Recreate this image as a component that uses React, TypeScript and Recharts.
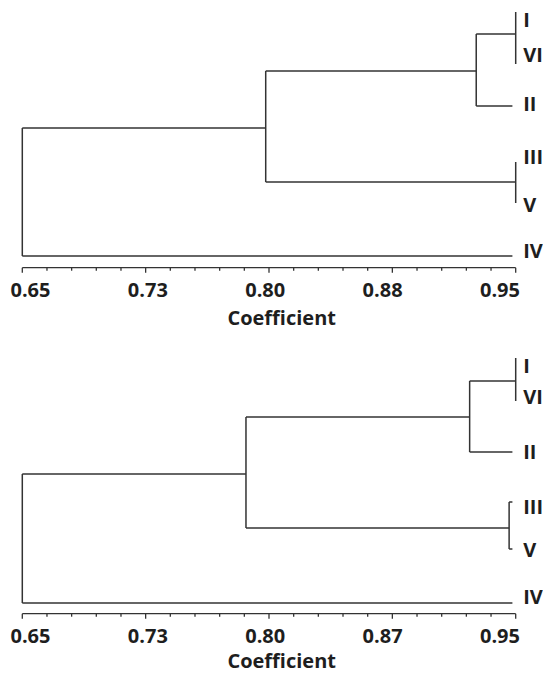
import React from 'react';
import { LineChart, Line, XAxis, YAxis, Label } from 'recharts';

// leaves top to bottom, and the merge order of the dendrogram (m0..m4 = earlier merges)
const leafNames = ['I', 'VI', 'II', 'III', 'V', 'IV'];
const mergePairs = [['I', 'VI'], ['III', 'V'], ['m0', 'II'], ['m2', 'm1'], ['m3', 'IV']];

const coefTicks = [
  0.65, 0.665, 0.68, 0.695, 0.71, 0.725, 0.74, 0.755, 0.77, 0.785, 0.8,
  0.815, 0.83, 0.845, 0.86, 0.875, 0.89, 0.905, 0.92, 0.935, 0.95,
];
const leafEnd = 0.948;

// upper dendrogram
const topTickLabels = ['0.65', '0.73', '0.80', '0.88', '0.95'];
const topLeafRow = [12, 64, 106, 162, 203, 256];
const topLabelRow = [20, 55, 104, 157, 205, 251];
const topMergeCoef = [0.95, 0.95, 0.926, 0.798, 0.65];
const topMergeRow = [34, 182, 71, 128, 0];

// lower dendrogram
const bottomTickLabels = ['0.65', '0.73', '0.80', '0.87', '0.95'];
const bottomLeafRow = [12, 55, 106, 156, 203, 257];
const bottomLabelRow = [20, 51, 106, 161, 204, 251];
const bottomMergeCoef = [0.95, 0.946, 0.922, 0.786, 0.65];
const bottomMergeRow = [35, 182, 71, 128, 0];

const FONT = '"Open Sans", sans-serif';
const INK = '#1e1e1e';
const LINE = '#333';

type Pt = { x: number; y: number };

function buildSegments(leafRow: number[], mergeCoef: number[], mergeRow: number[]): Pt[][] {
  const pos = (id: string) => {
    if (id.startsWith('m')) {
      const k = Number(id.slice(1));
      return { x: mergeCoef[k], y: mergeRow[k] };
    }
    return { x: leafEnd, y: leafRow[leafNames.indexOf(id)] };
  };
  const segs: Pt[][] = [];
  mergePairs.forEach((pair, i) => {
    const x = mergeCoef[i];
    const kids = pair.map(pos);
    segs.push([{ x, y: kids[0].y }, { x, y: kids[1].y }]);
    kids.forEach((k) => {
      if (k.x > x + 0.0005) segs.push([{ x, y: k.y }, { x: k.x, y: k.y }]);
    });
  });
  return segs;
}

const CoefTick = (props: any) => {
  const { x, y, index, labels } = props;
  const major = index % 5 === 0;
  const frac = index / 20;
  return (
    <g>
      <line x1={x} x2={x} y1={y} y2={y + (major ? 5 : 3)} stroke={LINE} strokeWidth={1.3} />
      {major && (
        <text
          x={x + 8.2 - 23.9 * frac}
          y={y + 29}
          textAnchor="middle"
          fontFamily={FONT}
          fontWeight={700}
          fontSize={20}
          fill={INK}
        >
          {labels[index / 5]}
        </text>
      )}
    </g>
  );
};

const LeafTick = (props: any) => {
  const { x, y, index } = props;
  return (
    <text x={x} y={y + 7} textAnchor="start" fontFamily={FONT} fontWeight={700} fontSize={20} fill={INK}>
      {leafNames[index]}
    </text>
  );
};

const Dendrogram: React.FC<{
  leafRow: number[];
  labelRow: number[];
  mergeCoef: number[];
  mergeRow: number[];
  tickLabels: string[];
  titleDrop: number;
}> = ({ leafRow, labelRow, mergeCoef, mergeRow, tickLabels, titleDrop }) => {
  const segments = buildSegments(leafRow, mergeCoef, mergeRow);
  return (
    <LineChart width={543} height={330} margin={{ top: 0, right: 0, left: 22.3, bottom: 2.3 }}>
      <XAxis
        type="number"
        dataKey="x"
        domain={[0.65, 0.95]}
        ticks={coefTicks}
        interval={0}
        height={60}
        tickSize={0}
        tickMargin={0}
        tickLine={false}
        axisLine={{ stroke: LINE, strokeWidth: 1.3 }}
        tick={<CoefTick labels={tickLabels} />}
      >
        <Label
          content={(p: any) => {
            const vb = p.viewBox;
            return (
              <text
                x={vb.x + vb.width / 2 + 12.7}
                y={vb.y + titleDrop}
                textAnchor="middle"
                fontFamily={FONT}
                fontWeight={700}
                fontSize={20}
                fill={INK}
              >
                Coefficient
              </text>
            );
          }}
        />
      </XAxis>
      <YAxis
        type="number"
        orientation="right"
        domain={[0, 267.7]}
        reversed
        width={27.3}
        ticks={labelRow}
        interval={0}
        axisLine={false}
        tickLine={false}
        tickSize={0}
        tickMargin={7.5}
        tick={<LeafTick />}
      />
      {segments.map((seg, i) => (
        <Line
          key={i}
          data={seg}
          dataKey="y"
          type="linear"
          stroke={LINE}
          strokeWidth={1.5}
          dot={false}
          activeDot={false}
          isAnimationActive={false}
        />
      ))}
    </LineChart>
  );
};

export default function App() {
  return (
    <div style={{ position: 'absolute', left: 0, top: 0, width: 543, height: 674, overflow: 'hidden', background: '#fff' }}>
      <div style={{ position: 'absolute', left: 0, top: 0 }}>
        <Dendrogram
          leafRow={topLeafRow}
          labelRow={topLabelRow}
          mergeCoef={topMergeCoef}
          mergeRow={topMergeRow}
          tickLabels={topTickLabels}
          titleDrop={57}
        />
      </div>
      <div style={{ position: 'absolute', left: 0, top: 346 }}>
        <Dendrogram
          leafRow={bottomLeafRow}
          labelRow={bottomLabelRow}
          mergeCoef={bottomMergeCoef}
          mergeRow={bottomMergeRow}
          tickLabels={bottomTickLabels}
          titleDrop={54}
        />
      </div>
    </div>
  );
}
